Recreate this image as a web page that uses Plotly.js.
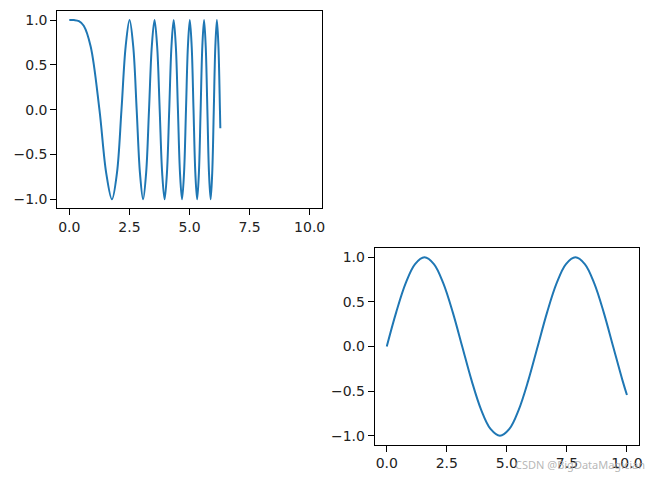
<!DOCTYPE html>
<html>
<head>
<meta charset="utf-8">
<script src="https://cdn.plot.ly/plotly-3.0.1.min.js"></script>
<style>html,body{margin:0;padding:0;background:#fff;}#chart{width:654px;height:480px;}</style>
</head>
<body>
<div id="chart"></div>
<script>
// Top-left panel: y = cos(x^2) read at quarter-phase points
const topX = [0, 0.2, 0.4, 0.6, 0.8862, 1.2533, 1.5350, 1.7725, 1.9817, 2.1708, 2.3447, 2.5066, 2.6587, 2.8025, 2.9393, 3.0700, 3.1953, 3.3160, 3.4324, 3.5449, 3.6540, 3.7599, 3.8630, 3.9633, 4.0612, 4.1568, 4.2502, 4.3416, 4.4311, 4.5189, 4.6050, 4.6895, 4.7725, 4.8541, 4.9343, 5.0132, 5.0910, 5.1675, 5.2430, 5.3174, 5.3907, 5.4631, 5.5345, 5.6050, 5.6746, 5.7434, 5.8114, 5.8786, 5.9450, 6.0107, 6.0757, 6.1400, 6.2036, 6.2666, 6.2832];
const topY = [1, 0.9992, 0.9872, 0.9359, 0.7071, 0, -0.7071, -1, -0.7071, 0, 0.7071, 1, 0.7071, 0, -0.7071, -1, -0.7071, 0, 0.7071, 1, 0.7071, 0, -0.7071, -1, -0.7071, 0, 0.7071, 1, 0.7071, 0, -0.7071, -1, -0.7071, 0, 0.7071, 1, 0.7071, 0, -0.7071, -1, -0.7071, 0, 0.7071, 1, 0.7071, 0, -0.7071, -1, -0.7071, 0, 0.7071, 1, 0.7071, 0, -0.207];

// Bottom-right panel: y = sin(x)
const botX = [0, 0.3927, 0.7854, 1.1781, 1.5708, 1.9635, 2.3562, 2.7489, 3.1416, 3.5343, 3.9270, 4.3197, 4.7124, 5.1051, 5.4978, 5.8905, 6.2832, 6.6759, 7.0686, 7.4613, 7.8540, 8.2467, 8.6394, 9.0321, 9.4248, 9.8175, 10];
const botY = [0, 0.3827, 0.7071, 0.9239, 1, 0.9239, 0.7071, 0.3827, 0, -0.3827, -0.7071, -0.9239, -1, -0.9239, -0.7071, -0.3827, 0, 0.3827, 0.7071, 0.9239, 1, 0.9239, 0.7071, 0.3827, 0, -0.3827, -0.544];

const xTickVals = [0, 2.5, 5, 7.5, 10];
const xTickText = ["0.0", "2.5", "5.0", "7.5", "10.0"];
const yTickVals = [-1, -0.5, 0, 0.5, 1];
const yTickText = ["\u22121.0", "\u22120.5", "0.0", "0.5", "1.0"];

const lineStyle = {color: '#1f77b4', width: 2, shape: 'spline', smoothing: 1};

const traces = [
  {x: topX, y: topY, type: 'scatter', mode: 'lines', line: lineStyle, xaxis: 'x', yaxis: 'y', hoverinfo: 'skip'},
  {x: botX, y: botY, type: 'scatter', mode: 'lines', line: lineStyle, xaxis: 'x2', yaxis: 'y2', hoverinfo: 'skip'}
];

function ax(domain, anchor, range, tv, tt) {
  return {
    domain: domain, anchor: anchor, range: range,
    tickmode: 'array', tickvals: tv, ticktext: tt,
    showline: true, mirror: true, linecolor: '#000', linewidth: 1,
    ticks: 'outside', ticklen: 6, tickwidth: 1, tickcolor: '#000',
    showgrid: false, zeroline: false,
    tickfont: {family: 'DejaVu Sans', size: 14, color: '#222'}
  };
}

const layout = {
  width: 654, height: 480,
  margin: {l: 0, r: 0, t: 0, b: 0},
  paper_bgcolor: '#fff', plot_bgcolor: '#fff',
  showlegend: false,
  xaxis: ax([0.0876, 0.4919], 'y', [-0.5, 10.5], xTickVals, xTickText),
  yaxis: ax([0.566, 0.977], 'x', [-1.1, 1.1], yTickVals, yTickText),
  xaxis2: ax([0.573, 0.977], 'y2', [-0.5, 10.5], xTickVals, xTickText),
  yaxis2: ax([0.0737, 0.4825], 'x2', [-1.1, 1.1], yTickVals, yTickText),
  annotations: [{
    text: 'CSDN @BigDataMagician', xref: 'paper', yref: 'paper',
    x: 513/654, y: 1 - 464/480, xanchor: 'left', yanchor: 'middle',
    showarrow: false, font: {family: 'Noto Sans', size: 11, color: 'rgba(170,170,170,0.85)'}
  }]
};

Plotly.newPlot('chart', traces, layout, {staticPlot: true, displayModeBar: false});
</script>
</body>
</html>
